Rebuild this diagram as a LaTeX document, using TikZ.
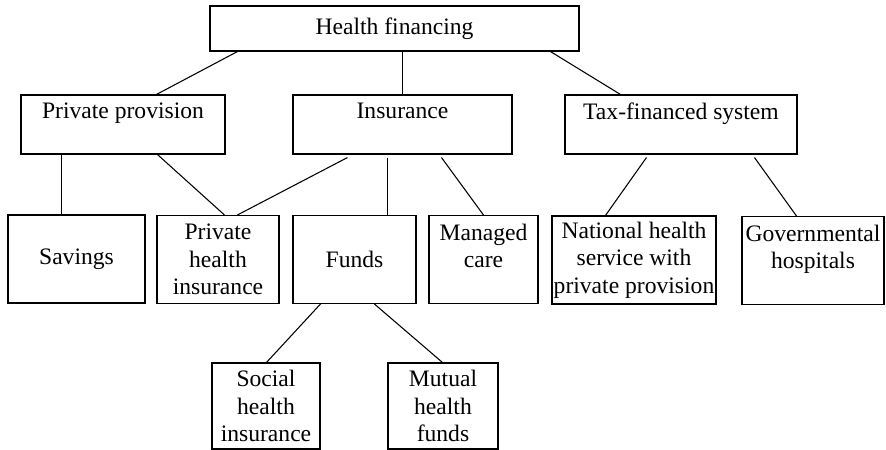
\documentclass[tikz,border=0pt]{standalone}
\usepackage{fontspec}
\setmainfont{Liberation Serif}
\usetikzlibrary{calc}
\tikzset{
  box/.style={draw, line width=0.8pt, align=center, inner sep=0pt,
    font=\fontsize{17.7}{20.5}\selectfont},
  link/.style={line width=0.8pt}
}
\begin{document}
\begin{tikzpicture}[x=0.75pt,y=-0.75pt]
\useasboundingbox (0,0) rectangle (886,450);
\draw (394.5,28.5) node[box, minimum width=276.75pt, minimum height=33.75pt] (hf) {Health financing};
\draw (123,124.5) node[box, minimum width=153pt, minimum height=44.25pt] (pp) {Private provision\\~};
\draw (402.5,124.5) node[box, minimum width=164.25pt, minimum height=44.25pt] (ins) {Insurance\\~};
\draw (681,124.5) node[box, minimum width=174pt, minimum height=44.25pt] (tax) {Tax-financed system\\~};
\draw (76.5,259) node[box, minimum width=102.75pt, minimum height=66pt] (sav) {Savings};
\draw (218,259.5) node[box, minimum width=91.5pt, minimum height=66pt] (phi) {Private\\health\\insurance};
\draw (354.5,259.5) node[box, minimum width=92.25pt, minimum height=66pt] (funds) {Funds};
\draw (483.5,259.5) node[box, minimum width=81.75pt, minimum height=66pt] (mc) {Managed\\care\\~};
\draw (634,260) node[box, minimum width=123pt, minimum height=66pt] (nhs) {National health\\service with\\private provision};
\draw (813,260.5) node[box, minimum width=106.5pt, minimum height=66pt] (gov) {Governmental\\hospitals\\~};
\draw (266,406) node[box, minimum width=81pt, minimum height=64.5pt] (shi) {Social\\health\\insurance};
\draw (443,406) node[box, minimum width=82.5pt, minimum height=64.5pt] (mhf) {Mutual\\health\\funds};

\draw[link] ($(hf.south west)+(28,0)$) -- ($(pp.north west)+(136,0)$);
\draw[link] (ins.north) -- (ins.north |- hf.south);
\draw[link] ($(hf.south west)+(341,0)$) -- ($(tax.north west)+(56,0)$);
\draw[link] ($(pp.south west)+(41,0)$) -- ($(sav.north west)+(54,0)$);
\draw[link] ($(pp.south west)+(137,0)$) -- ($(phi.north west)+(68,0)$);
\draw[link] ($(ins.south west)+(55,3)$) -- ($(phi.north west)+(81,0)$);
\draw[link] ($(ins.south west)+(95,3)$) -- ($(funds.north west)+(95,0)$);
\draw[link] ($(ins.south west)+(149,3)$) -- ($(mc.north west)+(55,0)$);
\draw[link] ($(tax.south west)+(82,3)$) -- ($(nhs.north west)+(54,0)$);
\draw[link] ($(tax.south west)+(190,3)$) -- ($(gov.north west)+(55,0)$);
\draw[link] ($(funds.south west)+(28,0)$) -- ($(shi.north west)+(55,0)$);
\draw[link] ($(funds.south west)+(82,0)$) -- ($(mhf.north west)+(55,0)$);
\end{tikzpicture}
\end{document}
